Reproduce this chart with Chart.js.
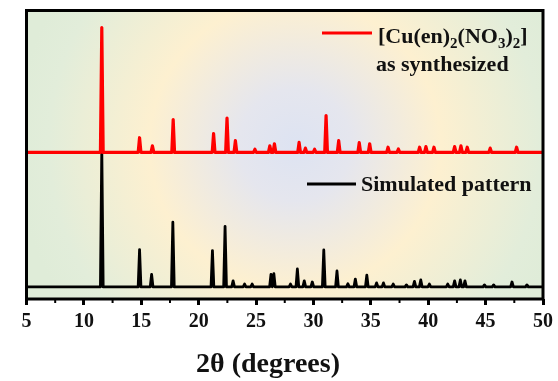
<!DOCTYPE html>
<html>
<head>
<meta charset="utf-8">
<script src="https://cdn.jsdelivr.net/npm/chart.js@4.4.0/dist/chart.umd.min.js"></script>
<style>
  body { margin: 0; background: #fff; }
  canvas { display: block; }
</style>
</head>
<body>
<canvas id="xrd" width="558" height="381"></canvas>
<script>
// 2theta tick labels
const xTicks = [5, 10, 15, 20, 25, 30, 35, 40, 45, 50];
const xTitle = '2θ (degrees)';

// as synthesized (red), offset pattern
const redBase = 50.8;
const redPos = [11.56, 14.85, 15.97, 17.78, 21.3, 22.47, 23.2, 24.9, 26.2, 26.6, 28.75, 29.3, 30.1, 31.1, 32.2,
                33.99, 34.9, 36.5, 37.4, 39.25, 39.8, 40.5, 42.3, 42.85, 43.4, 45.4, 47.7];
const redTop = [94.1, 55.9, 53.1, 62.2, 57.3, 62.7, 54.9, 51.9, 53.1, 53.8, 54.3, 52.3, 51.9, 63.6, 54.9,
                54.2, 53.8, 52.6, 52.0, 52.6, 52.8, 52.6, 52.8, 53.1, 52.6, 52.3, 52.6];

// simulated pattern (black)
const blackBase = 4.2;
const blackPos = [11.56, 14.85, 15.9, 17.75, 21.2, 22.3, 23.0, 24.0, 24.66, 26.3, 26.55, 28.0, 28.6, 29.2, 29.9,
                  30.9, 32.05, 33.0, 33.65, 34.65, 35.5, 36.1, 36.95, 38.1, 38.8, 39.35, 40.1, 41.7, 42.3,
                  42.8, 43.2, 44.9, 45.7, 47.3, 48.6];
const blackTop = [52.1, 17.1, 8.5, 26.6, 16.8, 25.2, 6.3, 5.2, 5.2, 8.5, 8.8, 5.2, 10.4, 6.3, 5.9,
                  17.0, 9.7, 5.3, 6.9, 8.3, 5.6, 5.6, 5.2, 4.9, 6.1, 6.6, 5.2, 5.2, 6.3,
                  6.6, 6.3, 4.9, 4.9, 5.9, 4.9];

function buildPattern(pos, tops, base) {
  const w = 0.12;
  let pts = [{ x: 5, y: base }];
  pos.forEach((p, i) => {
    pts.push({ x: p - w, y: base });
    pts.push({ x: p, y: tops[i] });
    pts.push({ x: p + w, y: base });
  });
  pts.push({ x: 50, y: base });
  return pts;
}

const serif = '"Liberation Serif", "Times New Roman", serif';

const framePlugin = {
  id: 'frame',
  beforeDatasetsDraw(chart) {
    const { ctx, chartArea: a } = chart;
    const cx = 295, cy = 145;
    const g = ctx.createRadialGradient(cx, cy, 0, cx, cy, 280);
    g.addColorStop(0, '#dde3f2');
    g.addColorStop(0.2, '#e5e6ee');
    g.addColorStop(0.52, '#fdf0d0');
    g.addColorStop(0.88, '#e2edda');
    g.addColorStop(1, '#dfecd8');
    ctx.save();
    ctx.fillStyle = g;
    ctx.fillRect(a.left, a.top, a.right - a.left, a.bottom - a.top);
    ctx.restore();
  },
  afterDraw(chart) {
    const { ctx, chartArea: a } = chart;
    const xs = chart.scales.x;
    ctx.save();
    // minor ticks
    ctx.strokeStyle = '#000';
    ctx.lineWidth = 2;
    for (let v = 7.5; v < 50; v += 5) {
      const px = xs.getPixelForValue(v);
      ctx.beginPath();
      ctx.moveTo(px, a.bottom);
      ctx.lineTo(px, a.bottom + 4);
      ctx.stroke();
    }
    // frame
    ctx.lineWidth = 3;
    ctx.strokeRect(a.left, a.top, a.right - a.left, a.bottom - a.top);

    // legend entries
    ctx.lineWidth = 3;
    ctx.strokeStyle = '#ff0000';
    ctx.beginPath(); ctx.moveTo(322, 33); ctx.lineTo(372, 33); ctx.stroke();
    ctx.strokeStyle = '#000';
    ctx.beginPath(); ctx.moveTo(307, 184); ctx.lineTo(356, 184); ctx.stroke();

    ctx.fillStyle = '#111';
    ctx.textBaseline = 'alphabetic';
    const big = 'bold 22px ' + serif, sub = 'bold 15px ' + serif;
    let x = 378;
    const parts = [['[Cu(en)', big, 0], ['2', sub, 5], ['(NO', big, 0], ['3', sub, 5], [')', big, 0], ['2', sub, 5], [']', big, 0]];
    parts.forEach(([t, f, dy]) => {
      ctx.font = f;
      ctx.fillText(t, x, 43 + dy);
      x += ctx.measureText(t).width;
    });
    ctx.font = big;
    ctx.fillText('as synthesized', 376, 71);
    ctx.fillText('Simulated pattern', 361, 191);

    // axis title
    ctx.font = 'bold 28px ' + serif;
    ctx.textAlign = 'center';
    ctx.fillText(xTitle, 268, 372);
    ctx.restore();
  }
};

new Chart(document.getElementById('xrd'), {
  type: 'line',
  data: {
    datasets: [
      {
        label: 'as synthesized',
        data: buildPattern(redPos, redTop, redBase),
        borderColor: '#ff0000',
        borderWidth: 3.2,
        borderJoinStyle: 'round',
        pointRadius: 0,
        tension: 0
      },
      {
        label: 'Simulated pattern',
        data: buildPattern(blackPos, blackTop, blackBase),
        borderColor: '#000000',
        borderWidth: 2.8,
        borderJoinStyle: 'round',
        pointRadius: 0,
        tension: 0
      }
    ]
  },
  options: {
    responsive: false,
    animation: false,
    layout: { autoPadding: false, padding: { left: 26.5, right: 12, top: 10.5, bottom: 42 } },
    plugins: { legend: { display: false }, tooltip: { enabled: false } },
    scales: {
      x: {
        type: 'linear',
        min: 5,
        max: 50,
        afterBuildTicks: (scale) => { scale.ticks = xTicks.map(v => ({ value: v })); },
        ticks: {
          color: '#111',
          font: { family: serif, size: 20, weight: 'bold' },
          padding: 5,
          maxRotation: 0
        },
        grid: {
          drawOnChartArea: false,
          drawTicks: true,
          tickLength: 6,
          tickWidth: 3,
          tickColor: '#000'
        },
        border: { display: false }
      },
      y: {
        display: false,
        min: 0,
        max: 100
      }
    }
  },
  plugins: [framePlugin]
});
</script>
</body>
</html>
